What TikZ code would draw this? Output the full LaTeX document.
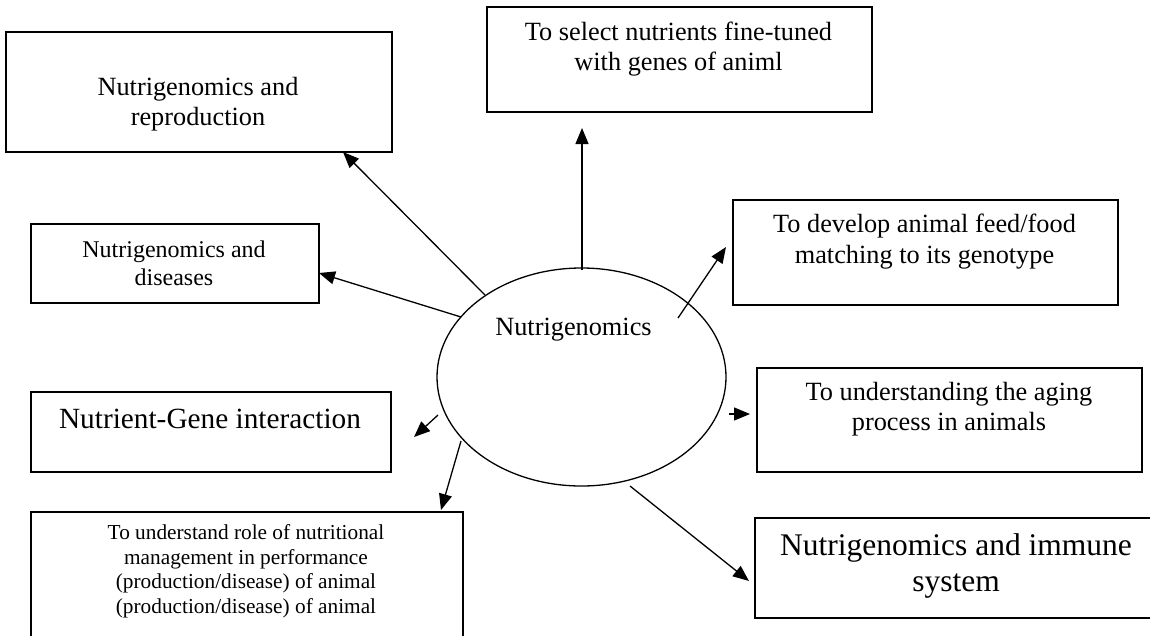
\documentclass[tikz,border=0pt]{standalone}
\usepackage{fontspec}
\setmainfont{Liberation Serif}
\usetikzlibrary{arrows.meta,shapes.geometric}
\begin{document}
\begin{tikzpicture}[x=1pt,y=-1pt,
  box/.style={draw,line width=1.7pt,inner sep=0pt,anchor=north west},
  txt/.style={align=center,inner sep=0pt},
  fmain/.style={font=\fontsize{26.3}{30.2}\selectfont},
  arr/.style={line width=1.3pt,-{Triangle[length=16pt,width=13pt]}}]
\useasboundingbox (0,0) rectangle (1150,635);
\fill[white] (0,0) rectangle (1150,635);
% boxes
\node[box,minimum width=386pt,minimum height=120pt] (rep) at (5,31) {};
\node[box,minimum width=385pt,minimum height=105pt] (sel) at (486,6) {};
\node[box,minimum width=288pt,minimum height=79pt] (dis) at (30,223) {};
\node[box,minimum width=385pt,minimum height=105pt] (dev) at (732,199) {};
\node[box,minimum width=360pt,minimum height=80pt] (ng) at (30,391) {};
\node[box,minimum width=385pt,minimum height=104pt] (age) at (756,367) {};
\node[box,minimum width=432pt,minimum height=140pt] (role) at (30,511) {};
\node[box,minimum width=410pt,minimum height=100pt] (imm) at (754,517) {};
% ellipse
\node[draw,ellipse,line width=1.3pt,minimum width=289pt,minimum height=218pt,inner sep=0pt] (ell) at (581.5,377) {};
% texts
\node[txt,fmain] (repT) at (198,104) {Nutrigenomics and\\reproduction};
\node[txt,fmain] (selT) at (678.5,49) {To select nutrients fine-tuned\\with genes of animl};
\node[txt,font=\fontsize{24}{27.6}\selectfont] (disT) at (174,263) {Nutrigenomics and\\diseases};
\node[txt,fmain] (devT) at (924.5,241.5) {To develop animal feed/food\\matching to its genotype};
\node[txt,font=\fontsize{29.3}{33.7}\selectfont] (ngT) at (210,419) {Nutrient-Gene interaction};
\node[txt,fmain] (ageT) at (949,409) {To understanding the aging\\process in animals};
\node[txt,font=\fontsize{31.5}{36}\selectfont] (immT) at (956,566) {Nutrigenomics and immune\\system};
\node[txt,font=\fontsize{21.3}{24.5}\selectfont] (roleT) at (246,571.5) {To understand role of nutritional\\management in performance\\(production/disease) of animal\\(production/disease) of animal};
\node[inner sep=0pt,anchor=base,fmain] (ellT) at (573.5,335) {Nutrigenomics};
% connector end points
\coordinate (s1) at (485,295); \coordinate (e1) at (343,152);
\coordinate (s2) at (461,317); \coordinate (e2) at (319,273);
\coordinate (s3) at (582,270); \coordinate (e3) at (582,128);
\coordinate (s4) at (678,318); \coordinate (e4) at (726,247);
\coordinate (s5) at (729,414); \coordinate (e5) at (750,414);
\coordinate (s6) at (630,486); \coordinate (e6) at (749,581);
\coordinate (s7) at (461,441); \coordinate (e7) at (441,510);
\coordinate (s8) at (438,415); \coordinate (e8) at (414,437);
\draw[arr] (s1) -- (e1);
\draw[arr] (s2) -- (e2);
\draw[arr] (s3) -- (e3);
\draw[arr] (s4) -- (e4);
\draw[arr] (s5) -- (e5);
\draw[arr] (s6) -- (e6);
\draw[arr] (s7) -- (e7);
\draw[arr] (s8) -- (e8);
\end{tikzpicture}
\end{document}
